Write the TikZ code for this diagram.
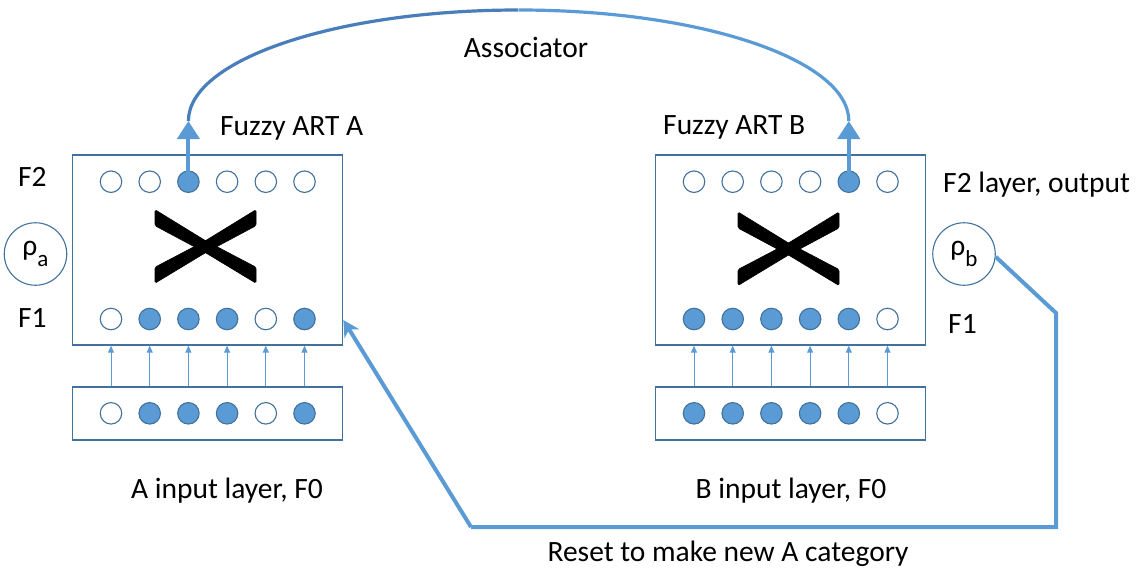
\documentclass[tikz,border=0pt]{standalone}
\usepackage{fontspec}
\setmainfont{Carlito}
\usetikzlibrary{arrows.meta}

\definecolor{artfill}{HTML}{5B9BD5}
\definecolor{artline}{HTML}{41719C}
\definecolor{artlink}{HTML}{5B9BD5}
\definecolor{artdark}{HTML}{4A7EBB}

\tikzset{
  lbl/.style={font=\fontsize{29.5}{34}\selectfont, inner sep=0pt},
  layerbox/.style={draw=artline, line width=1.3pt, minimum width=270pt, inner sep=0pt},
  unit/.style={circle, draw=artline, line width=1.1pt, minimum size=21.5pt, inner sep=0pt},
  off/.style={unit, fill=white},
  on/.style={unit, fill=artfill},
  vig/.style={circle, draw=artline, line width=1.1pt, minimum size=62.5pt, inner sep=0pt,
              font=\fontsize{29.5}{34}\selectfont},
  feed/.style={draw=artfill, line width=0.9pt, -{Triangle[width=6pt,length=7pt]}},
  winner/.style={draw=artlink, line width=4pt, -{Triangle[width=22pt,length=18pt]}},
  resetline/.style={draw=artlink, line width=4pt, line join=miter},
  crossmark/.style={fill=black, draw=black, line width=0.6pt, rounded corners=1.5pt}
}

% one six-unit row: #1 prefix, #2 y, #3 x of first unit, #4..#9 unit styles
\newcommand{\unitrow}[9]{%
  \foreach \k/\s in {1/#4,2/#5,3/#6,4/#7,5/#8,6/#9}{
    \node[\s] (#1\k) at ({#3+(\k-1)*38.7}, #2) {};
  }%
}

% the weight matrix symbol, centred at the current origin
\newcommand{\weightcross}{%
  \fill[crossmark] (-50.5,-37) -- (0,-6) -- (50.5,20.5) -- (50.5,36.5)
                   -- (0,6) -- (-50.5,-21) -- cycle;
  \fill[crossmark] (50.5,-37) -- (0,-6) -- (-50.5,20.5) -- (-50.5,36.5)
                   -- (0,6) -- (50.5,-21) -- cycle;
}

\begin{document}
\begin{tikzpicture}[x=1pt, y=-1pt]
\useasboundingbox (0,0) rectangle (1137,571);

% ---------- module A ----------
\node[layerbox, minimum height=190pt] (artA) at (207.7,250) {};
\node[layerbox, minimum height=53pt] (inA) at (207.7,413.5) {};
\unitrow{aF}{181.7}{111}{off}{off}{on}{off}{off}{off}
\unitrow{aE}{319}{111}{off}{on}{on}{on}{off}{on}
\unitrow{aI}{413.3}{111}{off}{on}{on}{on}{off}{on}
\begin{scope}[shift={(205.5,246.7)}]\weightcross\end{scope}
\foreach \k in {1,...,6}{
  \draw[feed] (aI\k |- inA.north) -- (aI\k |- artA.south);
}
\node[vig] (rhoA) at (35.5,254) {\raisebox{0.2ex}{ρ}\raisebox{-0.6ex}{\fontsize{23}{26}\selectfont a}};
\node[lbl, anchor=west] (f2A) at (18,177) {F2};
\node[lbl, anchor=west] (f1A) at (18,318) {F1};
\node[lbl, anchor=west] (nameA) at (220,128) {Fuzzy ART A};
\node[lbl] (capA) at (227,491) {A input layer, F0};

% ---------- module B ----------
\node[layerbox, minimum height=190pt] (artB) at (790.5,250) {};
\node[layerbox, minimum height=53pt] (inB) at (790.5,413.5) {};
\unitrow{bF}{181.7}{694}{off}{off}{off}{off}{on}{off}
\unitrow{bE}{319}{694}{on}{on}{on}{on}{on}{off}
\unitrow{bI}{413.3}{694}{on}{on}{on}{on}{on}{off}
\begin{scope}[shift={(788.5,249)}]\weightcross\end{scope}
\foreach \k in {1,...,6}{
  \draw[feed] (bI\k |- inB.north) -- (bI\k |- artB.south);
}
\node[vig] (rhoB) at (964,254) {\raisebox{0.2ex}{ρ}\raisebox{-0.6ex}{\fontsize{23}{26}\selectfont b}};
\node[lbl, anchor=west] (f2B) at (943,185) {F2 layer, output};
\node[lbl, anchor=west] (f1B) at (948,324) {F1};
\node[lbl, anchor=west] (nameB) at (663,127) {Fuzzy ART B};
\node[lbl] (capB) at (791,491) {B input layer, F0};

% ---------- associator ----------
\coordinate (tipA) at (aF3 |- 0,121);
\coordinate (tipB) at (bF5 |- 0,121);
\draw[winner] (aF3.center) -- (tipA);
\draw[winner] (bF5.center) -- (tipB);
\draw[artdark, line width=3.2pt] (tipA) arc[start angle=180, end angle=90, x radius=330pt, y radius=111pt];
\draw[artlink, line width=3.2pt] (tipB) arc[start angle=0, end angle=90, x radius=330pt, y radius=111pt];
\node[lbl] (assoc) at (526,47) {Associator};

% ---------- reset path ----------
\coordinate (bendR) at (1056,313);
\coordinate (lowR) at (1056,527);
\coordinate (lowL) at (471,527);
\coordinate (hitA) at (artA.east |- 0,320);
\draw[resetline] (rhoB.-5) -- (bendR) -- (lowR) -- (lowL);
\draw[resetline, -{Stealth[width=17pt,length=16pt,inset=5pt]}] (lowL) -- (hitA);
\node[lbl] (resetcap) at (728,554) {Reset to make new A category};

\end{tikzpicture}
\end{document}
